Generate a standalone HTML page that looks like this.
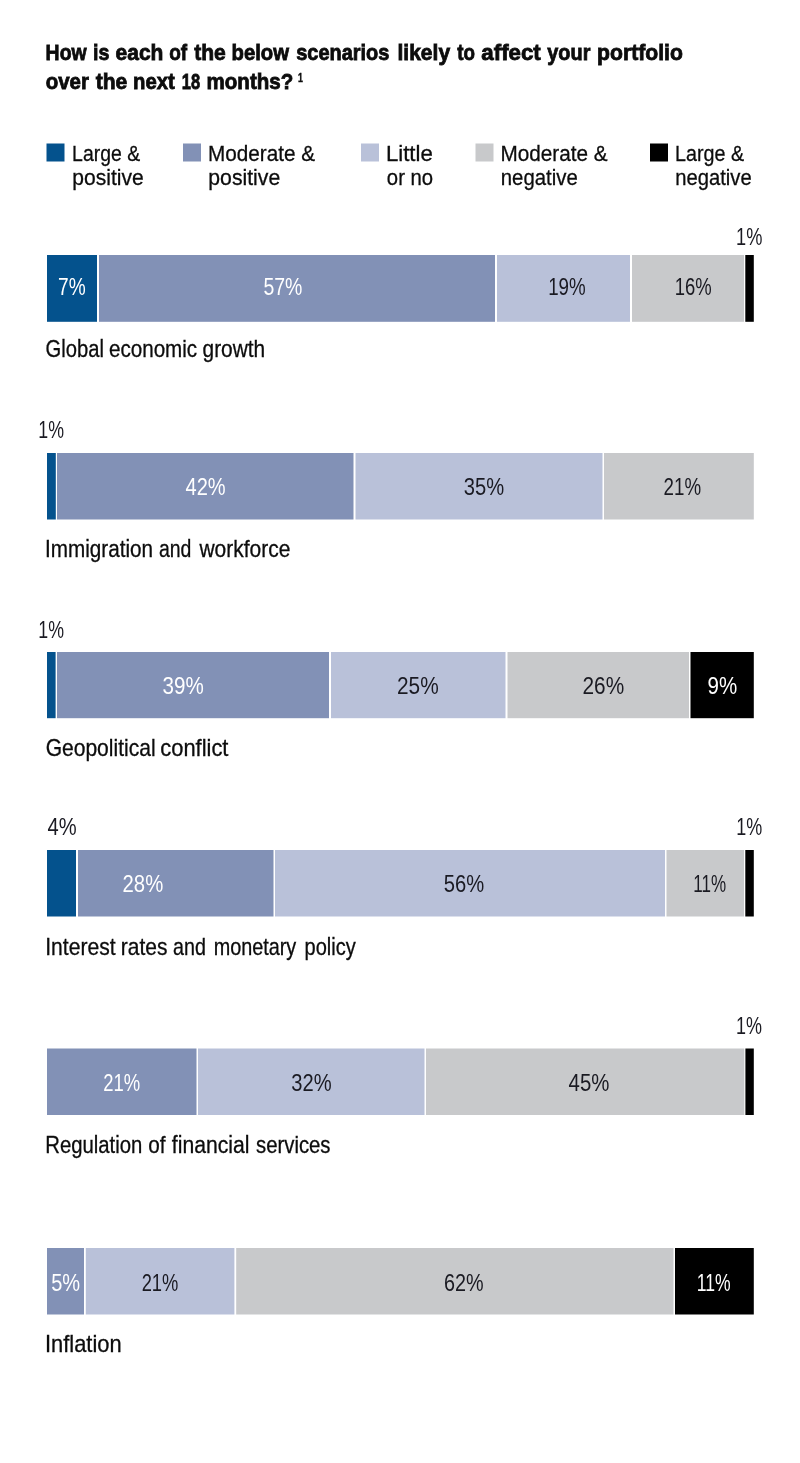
<!DOCTYPE html>
<html lang="en"><head><meta charset="utf-8"><title>Portfolio scenarios</title>
<style>
html,body{margin:0;padding:0;background:#fff}
svg{display:block;will-change:transform}
text{font-family:"Liberation Sans",Arial,Helvetica,sans-serif}
</style></head><body>
<svg width="800" height="1463" viewBox="0 0 800 1463">
<rect width="800" height="1463" fill="#ffffff"/>
<text transform="translate(45.62 59.60) scale(0.8819 1)" font-size="22" font-weight="700" fill="#0c0c0c" stroke="#0c0c0c" stroke-width="0.8">How</text>
<text transform="translate(93.02 59.60) scale(0.8922 1)" font-size="22" font-weight="700" fill="#0c0c0c" stroke="#0c0c0c" stroke-width="0.8">is</text>
<text transform="translate(115.62 59.60) scale(0.9528 1)" font-size="22" font-weight="700" fill="#0c0c0c" stroke="#0c0c0c" stroke-width="0.8">each</text>
<text transform="translate(169.15 59.60) scale(0.8638 1)" font-size="22" font-weight="700" fill="#0c0c0c" stroke="#0c0c0c" stroke-width="0.8">of</text>
<text transform="translate(194.19 59.60) scale(0.9585 1)" font-size="22" font-weight="700" fill="#0c0c0c" stroke="#0c0c0c" stroke-width="0.8">the</text>
<text transform="translate(231.58 59.60) scale(0.9220 1)" font-size="22" font-weight="700" fill="#0c0c0c" stroke="#0c0c0c" stroke-width="0.8">below</text>
<text transform="translate(296.23 59.60) scale(0.9069 1)" font-size="22" font-weight="700" fill="#0c0c0c" stroke="#0c0c0c" stroke-width="0.8">scenarios</text>
<text transform="translate(397.45 59.60) scale(0.9575 1)" font-size="22" font-weight="700" fill="#0c0c0c" stroke="#0c0c0c" stroke-width="0.8">likely</text>
<text transform="translate(457.17 59.60) scale(0.8526 1)" font-size="22" font-weight="700" fill="#0c0c0c" stroke="#0c0c0c" stroke-width="0.8">to</text>
<text transform="translate(481.30 59.60) scale(1.0143 1)" font-size="22" font-weight="700" fill="#0c0c0c" stroke="#0c0c0c" stroke-width="0.8">affect</text>
<text transform="translate(547.27 59.60) scale(0.9041 1)" font-size="22" font-weight="700" fill="#0c0c0c" stroke="#0c0c0c" stroke-width="0.8">your</text>
<text transform="translate(597.04 59.60) scale(0.9629 1)" font-size="22" font-weight="700" fill="#0c0c0c" stroke="#0c0c0c" stroke-width="0.8">portfolio</text>
<text transform="translate(45.63 89.30) scale(0.9306 1)" font-size="22" font-weight="700" fill="#0c0c0c" stroke="#0c0c0c" stroke-width="0.8">over</text>
<text transform="translate(95.69 89.30) scale(0.9585 1)" font-size="22" font-weight="700" fill="#0c0c0c" stroke="#0c0c0c" stroke-width="0.8">the</text>
<text transform="translate(133.08 89.30) scale(0.9232 1)" font-size="22" font-weight="700" fill="#0c0c0c" stroke="#0c0c0c" stroke-width="0.8">next</text>
<text transform="translate(181.83 89.30) scale(0.7499 1)" font-size="22" font-weight="700" fill="#0c0c0c" stroke="#0c0c0c" stroke-width="0.8">18</text>
<text transform="translate(206.57 89.30) scale(0.9337 1)" font-size="22" font-weight="700" fill="#0c0c0c" stroke="#0c0c0c" stroke-width="0.8">months?</text>
<text transform="translate(297.93 81.70) scale(0.7377 1)" font-size="12" font-weight="700" fill="#0c0c0c" stroke="#0c0c0c" stroke-width="0.4">1</text>
<rect x="46.50" y="143.50" width="18.00" height="18.00" fill="#04528d"/>
<text transform="translate(72.08 160.75) scale(0.8594 1)" font-size="22.6" fill="#0c0c0c" stroke="#0c0c0c" stroke-width="0.3">Large &amp;</text>
<text transform="translate(72.33 184.75) scale(0.9321 1)" font-size="22.6" fill="#0c0c0c" stroke="#0c0c0c" stroke-width="0.3">positive</text>
<rect x="183.00" y="143.50" width="18.00" height="18.00" fill="#8291b6"/>
<text transform="translate(207.99 160.75) scale(0.9170 1)" font-size="22.6" fill="#0c0c0c" stroke="#0c0c0c" stroke-width="0.3">Moderate &amp;</text>
<text transform="translate(208.33 184.75) scale(0.9389 1)" font-size="22.6" fill="#0c0c0c" stroke="#0c0c0c" stroke-width="0.3">positive</text>
<rect x="361.00" y="143.50" width="18.00" height="18.00" fill="#b9c1d9"/>
<text transform="translate(385.88 160.75) scale(0.9830 1)" font-size="22.6" fill="#0c0c0c" stroke="#0c0c0c" stroke-width="0.3">Little</text>
<text transform="translate(386.83 184.75) scale(0.8992 1)" font-size="22.6" fill="#0c0c0c" stroke="#0c0c0c" stroke-width="0.3">or no</text>
<rect x="475.50" y="143.50" width="18.00" height="18.00" fill="#c8c9cb"/>
<text transform="translate(500.49 160.75) scale(0.9170 1)" font-size="22.6" fill="#0c0c0c" stroke="#0c0c0c" stroke-width="0.3">Moderate &amp;</text>
<text transform="translate(500.78 184.75) scale(0.9006 1)" font-size="22.6" fill="#0c0c0c" stroke="#0c0c0c" stroke-width="0.3">negative</text>
<rect x="650.00" y="143.50" width="18.00" height="18.00" fill="#000000"/>
<text transform="translate(675.06 160.75) scale(0.8723 1)" font-size="22.6" fill="#0c0c0c" stroke="#0c0c0c" stroke-width="0.3">Large &amp;</text>
<text transform="translate(675.29 184.75) scale(0.8946 1)" font-size="22.6" fill="#0c0c0c" stroke="#0c0c0c" stroke-width="0.3">negative</text>
<rect x="47.00" y="255.00" width="50.00" height="66.80" fill="#04528d"/>
<rect x="99.00" y="255.00" width="396.00" height="66.80" fill="#8291b6"/>
<rect x="497.00" y="255.00" width="133.00" height="66.80" fill="#b9c1d9"/>
<rect x="632.00" y="255.00" width="112.00" height="66.80" fill="#c8c9cb"/>
<rect x="745.30" y="255.00" width="8.50" height="66.80" fill="#000000"/>
<text transform="translate(58.02 295.00) scale(0.8133 1)" font-size="23.5" fill="#ffffff">7%</text>
<text transform="translate(263.45 295.00) scale(0.8293 1)" font-size="23.5" fill="#ffffff">57%</text>
<text transform="translate(548.15 295.00) scale(0.7971 1)" font-size="23.5" fill="#1a1a22">19%</text>
<text transform="translate(674.66 295.00) scale(0.7858 1)" font-size="23.5" fill="#1a1a22">16%</text>
<text transform="translate(736.08 245.00) scale(0.7754 1)" font-size="23.5" fill="#1a1a22">1%</text>
<text transform="translate(45.57 357.35) scale(0.8703 1)" font-size="23.2" fill="#0c0c0c" stroke="#0c0c0c" stroke-width="0.3">Global</text>
<text transform="translate(108.93 357.35) scale(0.8890 1)" font-size="23.2" fill="#0c0c0c" stroke="#0c0c0c" stroke-width="0.3">economic</text>
<text transform="translate(202.52 357.35) scale(0.9003 1)" font-size="23.2" fill="#0c0c0c" stroke="#0c0c0c" stroke-width="0.3">growth</text>
<rect x="47.00" y="453.00" width="8.80" height="66.50" fill="#04528d"/>
<rect x="57.00" y="453.00" width="296.50" height="66.50" fill="#8291b6"/>
<rect x="355.50" y="453.00" width="247.00" height="66.50" fill="#b9c1d9"/>
<rect x="604.00" y="453.00" width="149.80" height="66.50" fill="#c8c9cb"/>
<text transform="translate(185.57 495.00) scale(0.8527 1)" font-size="23.5" fill="#ffffff">42%</text>
<text transform="translate(463.81 495.00) scale(0.8583 1)" font-size="23.5" fill="#1a1a22">35%</text>
<text transform="translate(663.62 495.00) scale(0.7975 1)" font-size="23.5" fill="#1a1a22">21%</text>
<text transform="translate(38.31 438.00) scale(0.7563 1)" font-size="23.5" fill="#1a1a22">1%</text>
<text transform="translate(45.06 557.35) scale(0.8924 1)" font-size="23.2" fill="#0c0c0c" stroke="#0c0c0c" stroke-width="0.3">Immigration</text>
<text transform="translate(158.97 557.35) scale(0.8391 1)" font-size="23.2" fill="#0c0c0c" stroke="#0c0c0c" stroke-width="0.3">and</text>
<text transform="translate(199.43 557.35) scale(0.9044 1)" font-size="23.2" fill="#0c0c0c" stroke="#0c0c0c" stroke-width="0.3">workforce</text>
<rect x="47.00" y="652.00" width="8.60" height="66.20" fill="#04528d"/>
<rect x="57.00" y="652.00" width="272.00" height="66.20" fill="#8291b6"/>
<rect x="331.00" y="652.00" width="174.50" height="66.20" fill="#b9c1d9"/>
<rect x="507.50" y="652.00" width="181.50" height="66.20" fill="#c8c9cb"/>
<rect x="690.50" y="652.00" width="63.30" height="66.20" fill="#000000"/>
<text transform="translate(162.50 694.00) scale(0.8759 1)" font-size="23.5" fill="#ffffff">39%</text>
<text transform="translate(397.03 694.00) scale(0.8861 1)" font-size="23.5" fill="#1a1a22">25%</text>
<text transform="translate(582.53 694.00) scale(0.8861 1)" font-size="23.5" fill="#1a1a22">26%</text>
<text transform="translate(707.54 694.00) scale(0.8731 1)" font-size="23.5" fill="#ffffff">9%</text>
<text transform="translate(38.31 637.70) scale(0.7563 1)" font-size="23.5" fill="#1a1a22">1%</text>
<text transform="translate(45.64 755.85) scale(0.9078 1)" font-size="23.2" fill="#0c0c0c" stroke="#0c0c0c" stroke-width="0.3">Geopolitical</text>
<text transform="translate(160.29 755.85) scale(0.9446 1)" font-size="23.2" fill="#0c0c0c" stroke="#0c0c0c" stroke-width="0.3">conflict</text>
<rect x="47.00" y="850.00" width="29.00" height="66.50" fill="#04528d"/>
<rect x="78.00" y="850.00" width="195.50" height="66.50" fill="#8291b6"/>
<rect x="275.00" y="850.00" width="390.00" height="66.50" fill="#b9c1d9"/>
<rect x="666.50" y="850.00" width="77.50" height="66.50" fill="#c8c9cb"/>
<rect x="745.30" y="850.00" width="8.50" height="66.50" fill="#000000"/>
<text transform="translate(122.55 891.50) scale(0.8640 1)" font-size="23.5" fill="#ffffff">28%</text>
<text transform="translate(443.73 891.50) scale(0.8602 1)" font-size="23.5" fill="#1a1a22">56%</text>
<text transform="translate(693.27 891.50) scale(0.7244 1)" font-size="23.5" fill="#1a1a22">11%</text>
<text transform="translate(47.57 835.30) scale(0.8571 1)" font-size="23.5" fill="#1a1a22">4%</text>
<text transform="translate(736.30 835.30) scale(0.7658 1)" font-size="23.5" fill="#1a1a22">1%</text>
<text transform="translate(45.23 954.75) scale(0.9095 1)" font-size="23.2" fill="#0c0c0c" stroke="#0c0c0c" stroke-width="0.3">Interest</text>
<text transform="translate(120.78 954.75) scale(0.9036 1)" font-size="23.2" fill="#0c0c0c" stroke="#0c0c0c" stroke-width="0.3">rates</text>
<text transform="translate(172.96 954.75) scale(0.8500 1)" font-size="23.2" fill="#0c0c0c" stroke="#0c0c0c" stroke-width="0.3">and</text>
<text transform="translate(213.65 954.75) scale(0.8544 1)" font-size="23.2" fill="#0c0c0c" stroke="#0c0c0c" stroke-width="0.3">monetary</text>
<text transform="translate(304.52 954.75) scale(0.8623 1)" font-size="23.2" fill="#0c0c0c" stroke="#0c0c0c" stroke-width="0.3">policy</text>
<rect x="47.00" y="1048.50" width="149.50" height="66.50" fill="#8291b6"/>
<rect x="198.00" y="1048.50" width="226.50" height="66.50" fill="#b9c1d9"/>
<rect x="426.00" y="1048.50" width="318.30" height="66.50" fill="#c8c9cb"/>
<rect x="745.40" y="1048.50" width="8.40" height="66.50" fill="#000000"/>
<text transform="translate(103.13 1090.50) scale(0.7865 1)" font-size="23.5" fill="#ffffff">21%</text>
<text transform="translate(291.31 1090.50) scale(0.8583 1)" font-size="23.5" fill="#1a1a22">32%</text>
<text transform="translate(568.57 1090.50) scale(0.8680 1)" font-size="23.5" fill="#1a1a22">45%</text>
<text transform="translate(736.10 1034.40) scale(0.7658 1)" font-size="23.5" fill="#1a1a22">1%</text>
<text transform="translate(45.27 1152.75) scale(0.8755 1)" font-size="23.2" fill="#0c0c0c" stroke="#0c0c0c" stroke-width="0.3">Regulation</text>
<text transform="translate(148.13 1152.75) scale(0.8935 1)" font-size="23.2" fill="#0c0c0c" stroke="#0c0c0c" stroke-width="0.3">of</text>
<text transform="translate(171.86 1152.75) scale(0.9132 1)" font-size="23.2" fill="#0c0c0c" stroke="#0c0c0c" stroke-width="0.3">financial</text>
<text transform="translate(256.01 1152.75) scale(0.8763 1)" font-size="23.2" fill="#0c0c0c" stroke="#0c0c0c" stroke-width="0.3">services</text>
<rect x="47.00" y="1248.00" width="37.00" height="66.50" fill="#8291b6"/>
<rect x="85.80" y="1248.00" width="148.60" height="66.50" fill="#b9c1d9"/>
<rect x="236.20" y="1248.00" width="437.30" height="66.50" fill="#c8c9cb"/>
<rect x="675.00" y="1248.00" width="78.80" height="66.50" fill="#000000"/>
<text transform="translate(51.23 1290.50) scale(0.8522 1)" font-size="23.5" fill="#ffffff">5%</text>
<text transform="translate(141.64 1290.50) scale(0.7798 1)" font-size="23.5" fill="#1a1a22">21%</text>
<text transform="translate(444.07 1290.50) scale(0.8418 1)" font-size="23.5" fill="#1a1a22">62%</text>
<text transform="translate(696.73 1290.50) scale(0.7478 1)" font-size="23.5" fill="#ffffff">11%</text>
<text transform="translate(44.96 1351.85) scale(0.9441 1)" font-size="23.2" fill="#0c0c0c" stroke="#0c0c0c" stroke-width="0.3">Inflation</text>
</svg>
</body></html>
